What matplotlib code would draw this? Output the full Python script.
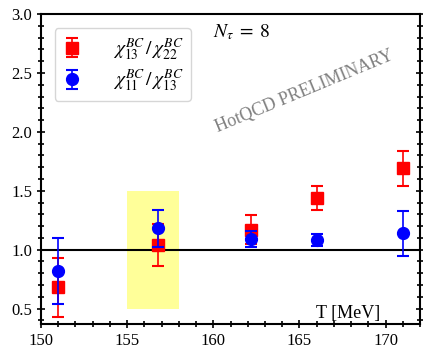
import matplotlib
matplotlib.use('Agg')
import matplotlib.pyplot as plt
from matplotlib.ticker import MultipleLocator

plt.rcParams['font.family'] = ['Liberation Serif', 'DejaVu Serif']
plt.rcParams['mathtext.fontset'] = 'stix'

# Temperaturen (MeV) und Verhaeltnisse
T_red = [151.0, 156.8, 162.2, 166.0, 171.0]
r_red = [0.68, 1.04, 1.17, 1.44, 1.69]
e_red = [0.25, 0.18, 0.12, 0.10, 0.15]

T_blue = [151.0, 156.8, 162.2, 166.0, 171.0]
r_blue = [0.82, 1.18, 1.09, 1.08, 1.14]
e_blue = [0.28, 0.16, 0.07, 0.05, 0.19]

band_T = (155.0, 158.0)
band_y = (0.5, 1.5)

fig = plt.figure(figsize=(4.23, 3.52), dpi=100)
ax = fig.add_axes([0.097, 0.08, 0.896, 0.88])

ax.fill_between(band_T, band_y[0], band_y[1], color='#ffff80', alpha=0.8, lw=0, zorder=0)
ax.axhline(1.0, color='black', lw=1.5, zorder=1)

ax.errorbar(T_red, r_red, yerr=e_red, fmt='s', color='red', ms=8.5, capsize=4.5,
            elinewidth=1.2, capthick=1.5, label=r'$\chi^{BC}_{13}\,/\,\chi^{BC}_{22}$', zorder=3)
ax.errorbar(T_blue, r_blue, yerr=e_blue, fmt='o', color='blue', ms=8.5, capsize=4.5,
            elinewidth=1.2, capthick=1.5, label=r'$\chi^{BC}_{11}\,/\,\chi^{BC}_{13}$', zorder=4)

ax.set_xlim(150, 172)
ax.set_ylim(0.37, 3.0)
ax.xaxis.set_major_locator(MultipleLocator(5))
ax.xaxis.set_minor_locator(MultipleLocator(1))
ax.yaxis.set_major_locator(MultipleLocator(0.5))
ax.yaxis.set_minor_locator(MultipleLocator(0.1))
ax.tick_params(which='both', direction='inout', right=True, labelsize=12, width=1.2)
ax.tick_params(which='major', length=6)
ax.tick_params(which='minor', length=4)
for s in ax.spines.values():
    s.set_linewidth(1.5)

ax.text(160.0, 2.85, r'$N_\tau\;=\;8$', fontsize=14, va='center')
ax.text(165.3, 2.34, 'HotQCD PRELIMINARY', fontsize=13, color='gray',
        rotation=22.5, ha='center', va='center')
ax.text(169.7, 0.46, 'T [MeV]', fontsize=13, ha='right', va='center')

ax.legend(loc='upper left', fontsize=14, handlelength=1.0, handletextpad=1.6,
          borderpad=0.4, labelspacing=0.3, bbox_to_anchor=(0.01, 0.985))

fig.savefig('out.png', dpi=100)
